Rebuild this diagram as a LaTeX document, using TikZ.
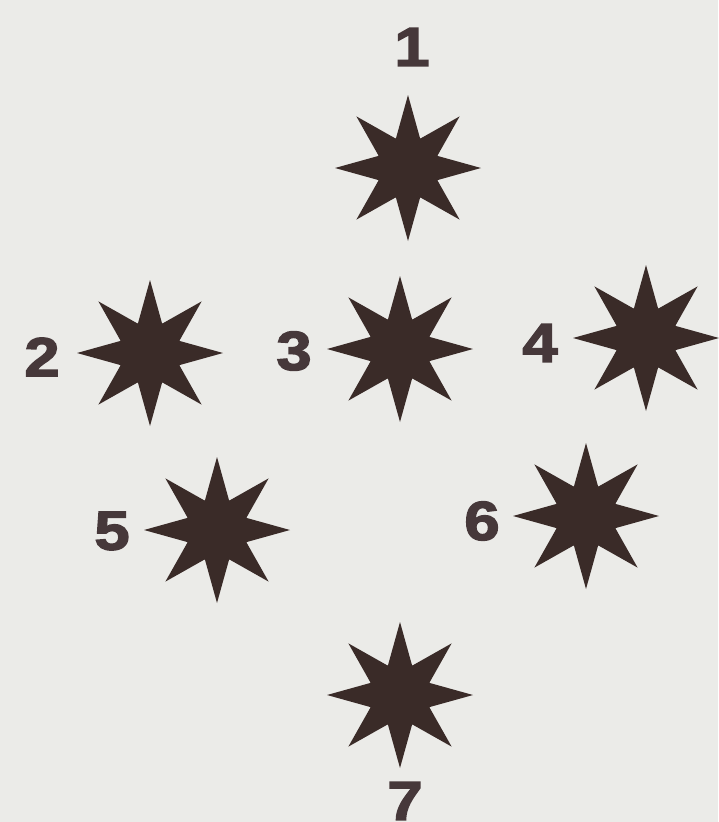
\documentclass[tikz,border=0pt]{standalone}
\usepackage{fontspec}
\newfontfamily\labfont[FakeBold=2.5]{Liberation Sans Bold}
\usetikzlibrary{shapes.geometric}
\definecolor{bg}{HTML}{EBEBE8}
\definecolor{starcol}{HTML}{3A2B28}
\definecolor{labcol}{HTML}{46383A}
\tikzset{
  starnode/.style={star, star points=8, star point ratio=2.3, minimum size=146pt,
    inner sep=0pt, fill=starcol, draw=none},
  lab/.style={text=labcol, font=\labfont\fontsize{55}{55}\selectfont, inner sep=0pt, xscale=1.15}
}
\begin{document}
\begin{tikzpicture}[x=1pt,y=-1pt]
\fill[bg] (0,0) rectangle (718,822);
\useasboundingbox (0,0) rectangle (718,822);
\node[starnode] (s1) at (408,168) {};
\node[starnode] (s2) at (150,353) {};
\node[starnode] (s3) at (400,349) {};
\node[starnode] (s4) at (646,338) {};
\node[starnode] (s5) at (217,530) {};
\node[starnode] (s6) at (586,516) {};
\node[starnode] (s7) at (400,695) {};
\node[lab] (l1) at (412,47) {1};
\node[lab] (l2) at (42,357) {2};
\node[lab] (l3) at (294,351) {3};
\node[lab] (l4) at (540,343) {4};
\node[lab] (l5) at (112,531) {5};
\node[lab] (l6) at (482,521) {6};
\node[lab] (l7) at (405,801) {7};
\end{tikzpicture}
\end{document}
